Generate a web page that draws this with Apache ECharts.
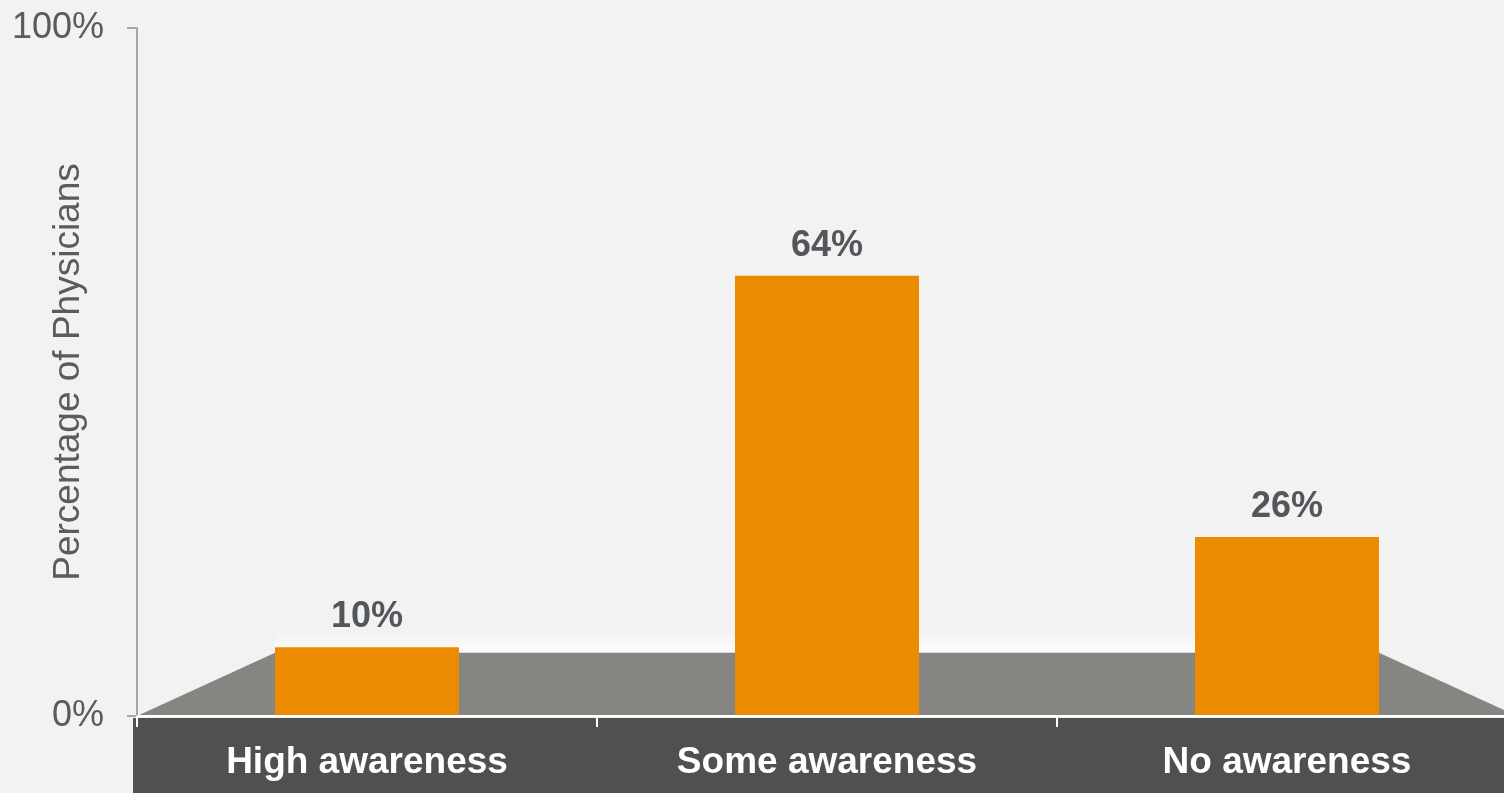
<!DOCTYPE html>
<html>
<head>
<meta charset="utf-8">
<script src="https://cdn.jsdelivr.net/npm/echarts@6/dist/echarts.min.js"></script>
<style>
html,body{margin:0;padding:0;background:#f2f2f2;}
#chart{width:1504px;height:793px;}
</style>
</head>
<body>
<div id="chart"></div>
<script>
const categories = ['High awareness', 'Some awareness', 'No awareness'];
const values = [10, 64, 26];
const yTicks = [0, 100];
const floorDepth = 9.2;

const chart = echarts.init(document.getElementById('chart'));
const FONT = 'Liberation Sans, Arial, sans-serif';

const option = {
  backgroundColor: '#f2f2f2',
  animation: false,
  grid: { left: 137, right: -13, top: 28, bottom: 77, containLabel: false, outerBoundsMode: 'none' },
  xAxis: {
    type: 'category',
    data: categories,
    z: 5,
    axisLine: { lineStyle: { color: '#ffffff', width: 2 } },
    axisTick: { show: true, length: 11, lineStyle: { color: '#ffffff', width: 2 } },
    axisLabel: { color: '#ffffff', fontFamily: FONT, fontWeight: 'bold', fontSize: 37, margin: 28 }
  },
  yAxis: {
    type: 'value',
    min: yTicks[0],
    max: yTicks[yTicks.length - 1],
    interval: yTicks[1] - yTicks[0],
    z: 5,
    name: 'Percentage of Physicians',
    nameLocation: 'middle',
    nameGap: 50,
    nameRotate: 90,
    nameMoveOverlap: false,
    nameTextStyle: { color: '#595b5f', fontFamily: FONT, fontSize: 37 },
    splitLine: { show: false },
    axisLine: { show: true, lineStyle: { color: '#a6a6a6', width: 2 } },
    axisTick: { show: true, length: 10, lineStyle: { color: '#a6a6a6', width: 2 } },
    axisLabel: { color: '#595b5f', fontFamily: FONT, fontSize: 36, margin: 33, formatter: '{value}%' }
  },
  series: [
    {
      type: 'custom',
      z: 1,
      silent: true,
      data: [[0, 0]],
      renderItem: function (params, api) {
        const cs = params.coordSys;
        const band = api.size([1, 0])[0];
        const half = band * 0.4 / 2;
        const x0 = api.coord([0, 0])[0] - half;
        const x1 = api.coord([categories.length - 1, 0])[0] + half;
        const yb = api.coord([0, 0])[1];
        const yt = api.coord([0, floorDepth])[1];
        const left = cs.x;
        const right = cs.x + cs.width;
        return {
          type: 'group',
          children: [
            {
              type: 'rect',
              shape: { x: left - 4, y: yb + 2, width: right - left + 20, height: 200 },
              style: { fill: '#505050' }
            },
            {
              type: 'rect',
              shape: { x: x0, y: yt - 22, width: x1 - x0, height: 22 },
              style: {
                fill: {
                  type: 'linear', x: 0, y: 0, x2: 0, y2: 1,
                  colorStops: [{ offset: 0, color: '#f2f2f2' }, { offset: 1, color: '#fcfcfc' }]
                }
              }
            },
            {
              type: 'polygon',
              shape: { points: [[left, yb], [x0, yt], [x1, yt], [right, yb]] },
              style: { fill: '#858681' }
            }
          ]
        };
      }
    },
    {
      type: 'bar',
      z: 2,
      data: values,
      barWidth: '40%',
      itemStyle: { color: '#ed8b00' },
      label: {
        show: true,
        position: 'top',
        distance: 12,
        formatter: '{c}%',
        color: '#53565a',
        fontFamily: FONT,
        fontWeight: 'bold',
        fontSize: 36
      }
    }
  ]
};
chart.setOption(option);
</script>
</body>
</html>
